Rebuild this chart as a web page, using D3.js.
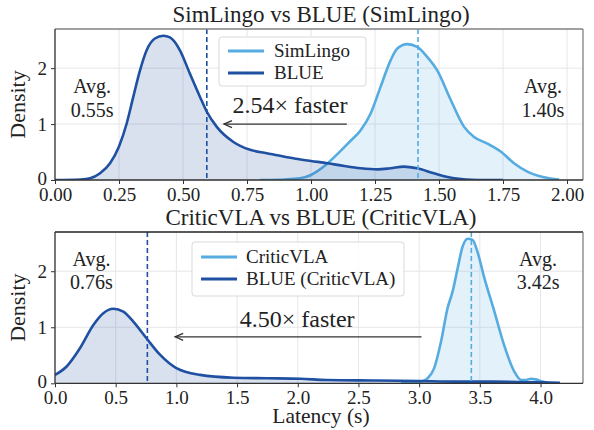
<!DOCTYPE html>
<html><head><meta charset="utf-8">
<script src="https://cdn.jsdelivr.net/npm/d3@7"></script>
<style>
html,body{margin:0;padding:0;background:#fff;}
svg text{font-family:"Liberation Serif","Times New Roman",serif;fill:#222;}
</style></head>
<body><svg id="chart" width="594" height="430"></svg>
<script>
// ---------- data ----------
const blueTopX = [0, 0.10, 0.137, 0.176, 0.215, 0.25, 0.28, 0.306, 0.332, 0.358, 0.39, 0.423, 0.449, 0.488, 0.527, 0.566, 0.593, 0.632, 0.697, 0.762, 0.827, 0.892, 0.94, 1.0, 1.064, 1.13, 1.194, 1.26, 1.31, 1.363, 1.414, 1.48, 1.56, 1.65, 1.75];
const blueTopY = [0.0, 0.01, 0.03, 0.12, 0.30, 0.60, 1.01, 1.49, 1.96, 2.32, 2.53, 2.58, 2.55, 2.32, 1.90, 1.49, 1.22, 0.95, 0.68, 0.54, 0.48, 0.42, 0.38, 0.34, 0.30, 0.25, 0.21, 0.19, 0.21, 0.24, 0.21, 0.12, 0.03, 0.0, 0.0];
const simTopX = [0.80, 0.90, 0.957, 1.0, 1.05, 1.10, 1.15, 1.194, 1.233, 1.272, 1.311, 1.337, 1.376, 1.415, 1.454, 1.493, 1.546, 1.598, 1.637, 1.689, 1.741, 1.793, 1.845, 1.91, 1.969];
const simTopY = [0.0, 0.01, 0.03, 0.09, 0.24, 0.45, 0.68, 0.89, 1.19, 1.67, 2.14, 2.35, 2.43, 2.38, 2.20, 1.96, 1.43, 0.95, 0.77, 0.65, 0.51, 0.30, 0.15, 0.05, 0.01];
const blueBotX = [0, 0.096, 0.204, 0.316, 0.398, 0.48, 0.563, 0.645, 0.755, 0.865, 1.0, 1.195, 1.47, 1.745, 2.02, 2.24, 2.65, 3.0, 3.3, 3.6, 3.9, 4.16];
const blueBotY = [0.15, 0.30, 0.62, 1.04, 1.25, 1.33, 1.28, 1.10, 0.80, 0.51, 0.27, 0.15, 0.10, 0.09, 0.08, 0.06, 0.05, 0.04, 0.03, 0.03, 0.02, 0.01];
const critBotX = [2.85, 2.95, 3.015, 3.07, 3.124, 3.18, 3.234, 3.276, 3.317, 3.358, 3.40, 3.44, 3.48, 3.537, 3.62, 3.70, 3.784, 3.84, 3.88, 3.92, 3.96, 4.00, 4.06];
const critBotY = [0.0, 0.01, 0.03, 0.09, 0.27, 0.74, 1.34, 1.64, 2.05, 2.44, 2.58, 2.56, 2.35, 1.88, 1.28, 0.68, 0.21, 0.06, 0.06, 0.08, 0.07, 0.04, 0.01];

const titles = ["SimLingo vs BLUE (SimLingo)", "CriticVLA vs BLUE (CriticVLA)"];
const legendTop = ["SimLingo", "BLUE"];
const legendBot = ["CriticVLA", "BLUE (CriticVLA)"];
const meanTop = [1.418, 0.593];      // dashed lines [slow, BLUE]
const meanBot = [3.43, 0.761];
const avgTop = ["1.40s", "0.55s"];
const avgBot = ["3.42s", "0.76s"];
const speedup = ["2.54× faster", "4.50× faster"];
const xTicksTop = [0, 0.25, 0.5, 0.75, 1.0, 1.25, 1.5, 1.75, 2.0];
const xTicksBot = [0, 0.5, 1.0, 1.5, 2.0, 2.5, 3.0, 3.5, 4.0];
const yTicks = [0, 1, 2];

// ---------- style ----------
const cLight = "#56ace0", cDark = "#1f50a2";
const svg = d3.select("#chart");

function panel(cfg) {
  const {top, bottom, xMax, xTicks, xFmt, series, means, avgs, title, legend, legendBox, arrow, sp, avgPos} = cfg;
  const left = 55, right = 583;
  const x = d3.scaleLinear().domain([0, xMax]).range([left, right]);
  const y = d3.scaleLinear().domain([0, 2.7]).range([bottom, top]);
  const g = svg.append("g");
  const cid = "clip" + top;
  svg.append("defs").append("clipPath").attr("id", cid).append("rect")
    .attr("x", left).attr("y", top).attr("width", right - left).attr("height", bottom - top);

  // grid
  g.append("g").selectAll("line").data(xTicks).join("line")
    .attr("x1", d => x(d)).attr("x2", d => x(d)).attr("y1", top).attr("y2", bottom)
    .attr("stroke", "#e6e6ea").attr("stroke-width", 1);
  g.append("g").selectAll("line").data(yTicks).join("line")
    .attr("x1", left).attr("x2", right).attr("y1", d => y(d)).attr("y2", d => y(d))
    .attr("stroke", "#e6e6ea").attr("stroke-width", 1);

  const pg = g.append("g").attr("clip-path", `url(#${cid})`);
  series.forEach(s => {
    const pts = s.xs.map((v, i) => [v, s.ys[i]]);
    const area = d3.area().x(d => x(d[0])).y0(y(0)).y1(d => y(d[1])).curve(d3.curveMonotoneX);
    const line = d3.line().x(d => x(d[0])).y(d => y(d[1])).curve(d3.curveMonotoneX);
    pg.append("path").attr("d", area(pts)).attr("fill", s.color).attr("fill-opacity", 0.17);
    pg.append("path").attr("d", line(pts)).attr("fill", "none").attr("stroke", s.color).attr("stroke-width", 2.6);
  });
  // mean lines
  means.forEach((m, i) => {
    pg.append("line").attr("x1", x(m)).attr("x2", x(m)).attr("y1", top).attr("y2", bottom)
      .attr("stroke", i === 0 ? cLight : cDark).attr("stroke-width", 1.6).attr("stroke-dasharray", "5,3");
  });

  // spines
  g.append("line").attr("x1", left).attr("x2", right).attr("y1", top).attr("y2", top).attr("stroke", cfg.topSpine).attr("stroke-width", 1.3);
  g.append("line").attr("x1", right).attr("x2", right).attr("y1", top).attr("y2", bottom).attr("stroke", "#808080").attr("stroke-width", 1.3);
  g.append("line").attr("x1", left).attr("x2", left).attr("y1", top).attr("y2", bottom).attr("stroke", "#333").attr("stroke-width", 1.3);
  g.append("line").attr("x1", left).attr("x2", right).attr("y1", bottom).attr("y2", bottom).attr("stroke", "#333").attr("stroke-width", 1.3);

  // axes
  const xa = g.append("g").attr("transform", `translate(0,${bottom})`)
    .call(d3.axisBottom(x).tickValues(xTicks).tickFormat(xFmt).tickSize(4).tickPadding(3.5));
  xa.select(".domain").remove();
  xa.selectAll("line").attr("stroke", "#333");
  xa.selectAll("text").attr("font-size", 19).attr("fill", "#222").style("font-family", "Liberation Serif");
  const ya = g.append("g").attr("transform", `translate(${left},0)`)
    .call(d3.axisLeft(y).tickValues(yTicks).tickFormat(d3.format("d")).tickSize(4).tickPadding(4));
  ya.select(".domain").remove();
  ya.selectAll("line").attr("stroke", "#333");
  ya.selectAll("text").attr("font-size", 19).attr("fill", "#222").style("font-family", "Liberation Serif")
    .attr("dy", (d) => d === 0 ? "0.22em" : "0.32em");

  // y label
  g.append("text").attr("transform", `translate(25,${(top + bottom) / 2}) rotate(-90)`)
    .attr("text-anchor", "middle").attr("font-size", 22).text("Density");
  // title
  g.append("text").attr("x", (left + right) / 2 + 2).attr("y", top - 7.5).attr("text-anchor", "middle")
    .attr("font-size", 23).text(title);

  // legend
  const lb = legendBox;
  g.append("rect").attr("x", lb.x).attr("y", lb.y).attr("width", lb.w).attr("height", lb.h).attr("rx", 3)
    .attr("fill", "#fff").attr("fill-opacity", 0.85).attr("stroke", "#d9d9d9").attr("stroke-width", 1);
  legend.forEach((t, i) => {
    const ly = lb.y + 14 + i * 22 + (lb.h > 50 ? 1 : 0);
    g.append("line").attr("x1", lb.x + 9).attr("x2", lb.x + 45).attr("y1", ly).attr("y2", ly)
      .attr("stroke", i === 0 ? cLight : cDark).attr("stroke-width", 3.2);
    g.append("text").attr("x", lb.x + lb.tx).attr("y", ly + 6).attr("font-size", 19).text(t);
  });

  // avg labels
  avgPos.forEach((p, i) => {
    const t = g.append("text").attr("text-anchor", "middle").attr("font-size", 20);
    t.append("tspan").attr("x", x(p.x)).attr("y", y(p.y1)).text("Avg.");
    t.append("tspan").attr("x", x(p.x)).attr("y", y(p.y2)).text(avgs[i]);
  });

  // arrow
  const ax1 = x(arrow.from), ax2 = x(arrow.to), ay = y(arrow.y);
  g.append("line").attr("x1", ax1).attr("x2", ax2).attr("y1", ay).attr("y2", ay).attr("stroke", "#333").attr("stroke-width", 1.3);
  g.append("path").attr("d", `M${ax2 + 8},${ay - 3.5} L${ax2},${ay} L${ax2 + 8},${ay + 3.5}`)
    .attr("fill", "none").attr("stroke", "#333").attr("stroke-width", 1.3);
  g.append("text").attr("x", x(sp.x)).attr("y", y(sp.y)).attr("text-anchor", "middle").attr("font-size", 24).text(sp.text);
  return {x, y};
}

panel({
  top: 29, bottom: 180, xMax: 2.0625, xTicks: xTicksTop, xFmt: d3.format(".2f"),
  series: [{xs: simTopX, ys: simTopY, color: cLight}, {xs: blueTopX, ys: blueTopY, color: cDark}],
  means: meanTop, avgs: avgTop, title: titles[0], legend: legendTop,
  legendBox: {x: 219, y: 37, w: 147, h: 49, tx: 55},
  arrow: {from: 1.14, to: 0.66, y: 1.0},
  sp: {x: 0.918, y: 1.196, text: speedup[0]},
  avgPos: [{x: 1.906, y1: 1.56, y2: 1.13}, {x: 0.145, y1: 1.56, y2: 1.13}],
  topSpine: "#808080"
});
panel({
  top: 232, bottom: 383.3, xMax: 4.35, xTicks: xTicksBot, xFmt: d3.format(".1f"),
  series: [{xs: critBotX, ys: critBotY, color: cLight}, {xs: blueBotX, ys: blueBotY, color: cDark}],
  means: meanBot, avgs: avgBot, title: titles[1], legend: legendBot,
  legendBox: {x: 192, y: 242, w: 212, h: 54, tx: 54},
  arrow: {from: 3.02, to: 0.99, y: 0.83},
  sp: {x: 1.995, y: 1.005, text: speedup[1]},
  avgPos: [{x: 3.98, y1: 2.1, y2: 1.68}, {x: 0.30, y1: 2.1, y2: 1.68}],
  topSpine: "#222"
});
svg.append("text").attr("x", 321).attr("y", 423).attr("text-anchor", "middle").attr("font-size", 21.5).text("Latency (s)");
</script></body></html>
